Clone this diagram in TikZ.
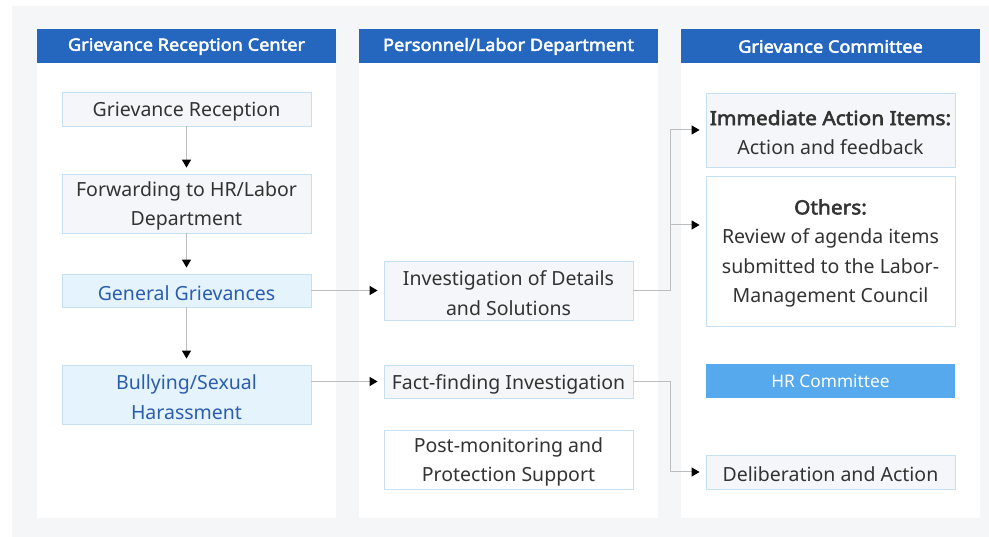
\documentclass[tikz,border=0pt]{standalone}
\usepackage{fontspec}
\setmainfont{Noto Sans}[AutoFakeBold=2.8,BoldFeatures={FakeStretch=1.07}]
\usetikzlibrary{arrows.meta}
\definecolor{bggray}{HTML}{F4F6F8}
\definecolor{hdrblue}{HTML}{2566BF}
\definecolor{boxline}{HTML}{C5DFF3}
\definecolor{boxgray}{HTML}{F4F6F9}
\definecolor{boxblue}{HTML}{E5F3FD}
\definecolor{txtblue}{HTML}{2B5DAE}
\definecolor{hrblue}{HTML}{56A9EC}
\definecolor{txt}{HTML}{333333}
\definecolor{conn}{HTML}{BDBDBD}
\tikzset{
  panel/.style={fill=white,draw=none},
  header/.style={fill=hdrblue,text=white,font=\bfseries\fontsize{17}{20}\selectfont,minimum width=299pt,minimum height=34pt,inner sep=0pt},
  basebox/.style={draw=boxline,line width=0.8pt,minimum width=249pt,inner sep=0pt},
  graybox/.style={basebox,fill=boxgray},
  whitebox/.style={basebox,fill=white},
  bluebox/.style={basebox,fill=boxblue},
  btext/.style={inner sep=0pt,align=center,text=txt,font=\fontsize{19.5}{29.5}\selectfont},
  bluetext/.style={btext,text=txtblue},
  hrbox/.style={fill=hrblue,text=white,minimum width=249pt,minimum height=34pt,inner sep=0pt,font=\fontsize{17.3}{20}\selectfont},
  conn/.style={draw=conn,line width=1pt,-{Triangle[black,width=9pt,length=8pt]}}
}
\begin{document}
\begin{tikzpicture}[x=1pt,y=-1pt]
\useasboundingbox (0,0) rectangle (989,537);
\fill[white] (0,0) rectangle (989,537);
\fill[bggray] (12,6) rectangle (989,537);
% panels
\fill[panel] (37,29) rectangle (336,518);
\fill[panel] (359,29) rectangle (658,518);
\fill[panel] (681,29) rectangle (980,518);
% headers
\node[header] (h1) at (186.5,46.5) {Grievance Reception Center};
\node[header] (h2) at (508.5,46.5) {Personnel/Labor Department};
\node[header] (h3) at (830.5,46.5) {Grievance Committee};
% column 1
\node[graybox,minimum height=34pt] (a1) at (186.5,109) {};
\node[btext] (a1t) at ([yshift=-2.5pt]a1.center) {Grievance Reception};
\node[graybox,minimum height=59pt] (a2) at (186.5,203.5) {};
\node[btext] (a2t) at ([yshift=-2.5pt]a2.center) {Forwarding to HR/Labor\\Department};
\node[bluebox,minimum height=33pt] (a3) at (186.5,290.5) {};
\node[bluetext] (a3t) at ([yshift=-2.5pt]a3.center) {General Grievances};
\node[bluebox,minimum height=59pt] (a4) at (186.5,394.5) {};
\node[bluetext] (a4t) at ([yshift=-2.5pt]a4.center) {Bullying/Sexual\\Harassment};
% column 2
\node[graybox,minimum height=59pt] (b1) at (508.5,290.5) {};
\node[btext] (b1t) at ([yshift=-2.5pt]b1.center) {Investigation of Details\\and Solutions};
\node[graybox,minimum height=33pt] (b2) at (508.5,381.5) {};
\node[btext] (b2t) at ([yshift=-2.5pt]b2.center) {Fact-finding Investigation};
\node[whitebox,minimum height=59pt] (b3) at (508.5,459.5) {};
\node[btext] (b3t) at ([yshift=-2.5pt]b3.center) {Post-monitoring and\\Protection Support};
% column 3
\node[graybox,minimum height=74pt] (c1) at (830.5,130) {};
\node[btext] (c1t) at ([yshift=-2.5pt]c1.center) {\textbf{Immediate Action Items:}\\Action and feedback};
\node[whitebox,minimum height=150pt] (c2) at (830.5,251) {};
\node[btext] (c2t) at ([yshift=-2.5pt]c2.center) {\textbf{Others:}\\Review of agenda items\\submitted to the Labor-\\Management Council};
\node[hrbox] (c3) at (830.5,381) {HR Committee};
\node[graybox,minimum height=34pt] (c4) at (830.5,472) {};
\node[btext] (c4t) at ([yshift=-2.5pt]c4.center) {Deliberation and Action};
% connectors
\draw[conn,shorten >=6pt] (a1.south) -- (a2.north);
\draw[conn,shorten >=6pt] (a2.south) -- (a3.north);
\draw[conn,shorten >=6pt] (a3.south) -- (a4.north);
\draw[conn,shorten >=6pt] (a3.east) -- (b1.west |- a3.east);
\draw[conn,shorten >=6pt] (a4.east |- b2.west) -- (b2.west);
\coordinate (j1) at (670,291);
\draw[conn,shorten >=6pt] (b1.east |- j1) -- (j1) -- (670,130) -- (c1.west);
\draw[conn,shorten >=6pt] (670,225) -- (c2.west |- 670,225);
\draw[conn,shorten >=6pt] (b2.east) -- (670,381.5) -- (670,472) -- (c4.west);
\end{tikzpicture}
\end{document}
